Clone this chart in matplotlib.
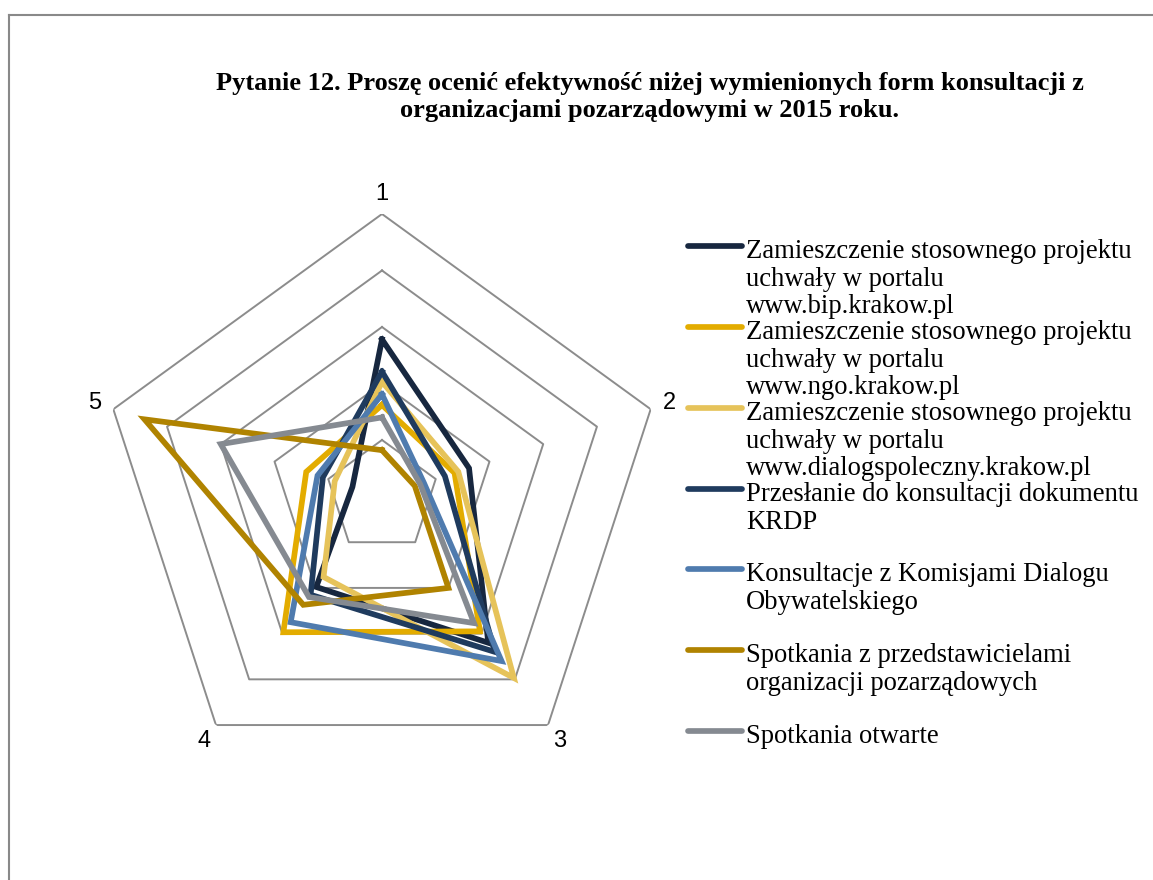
import numpy as np
import matplotlib
matplotlib.use("Agg")
import matplotlib.pyplot as plt
from matplotlib.lines import Line2D

# axes of the radar (rating categories)
categories = ["1", "2", "3", "4", "5"]

series_names = [
    "Zamieszczenie stosownego projektu\nuchwały w portalu\nwww.bip.krakow.pl",
    "Zamieszczenie stosownego projektu\nuchwały w portalu\nwww.ngo.krakow.pl",
    "Zamieszczenie stosownego projektu\nuchwały w portalu\nwww.dialogspoleczny.krakow.pl",
    "Przesłanie do konsultacji dokumentu\nKRDP",
    "Konsultacje z Komisjami Dialogu\nObywatelskiego",
    "Spotkania z przedstawicielami\norganizacji pozarządowych",
    "Spotkania otwarte",
]

bip = [2.78, 1.62, 3.20, 1.98, 0.55]
ngo = [1.62, 1.35, 2.95, 2.97, 1.41]
dialog = [2.03, 1.42, 3.97, 1.76, 0.88]
krdp = [2.21, 1.17, 3.40, 2.15, 1.10]
komisje = [1.81, 0.78, 3.60, 2.75, 1.20]
spotkania_org = [0.82, 0.61, 2.00, 2.37, 4.42]
spotkania_otw = [1.40, 0.71, 2.77, 2.20, 3.00]

colors = ["#17273f", "#e3ac00", "#e6c35a", "#1f3b5e", "#4f7bae", "#b08300", "#858a91"]

rings = [1, 2, 3, 4, 5]

title = "Pytanie 12. Proszę ocenić efektywność niżej wymienionych form konsultacji z\norganizacjami pozarządowymi w 2015 roku."

W, H = 1153, 880
fig = plt.figure(figsize=(W / 100, H / 100), dpi=100)

# outer frame (only top and left edge visible)
frame_c = "#898989"
fig.add_artist(Line2D([9 / W, 9 / W], [0, 1 - 15 / H], color=frame_c, lw=1.5))
fig.add_artist(Line2D([9 / W, 1], [1 - 15 / H, 1 - 15 / H], color=frame_c, lw=1.5))

cx, cy, R = 382, 496.5, 282.5
ax = fig.add_axes([(cx - R) / W, 1 - (cy + R) / H, 2 * R / W, 2 * R / H], projection="polar")
ax.set_theta_offset(np.pi / 2)
ax.set_theta_direction(-1)
ax.set_ylim(0, 5)
ax.grid(False)
ax.spines["polar"].set_visible(False)
ax.set_xticks([])
ax.set_yticks([])
ax.patch.set_alpha(0)

n = len(categories)
angles = np.linspace(0, 2 * np.pi, n, endpoint=False)
closed = np.append(angles, angles[0])

for r in rings:
    ax.plot(closed, [r] * (n + 1), color="#8c8c8c", lw=1.4, zorder=1)

data = [bip, ngo, dialog, krdp, komisje, spotkania_org, spotkania_otw]
for vals, c in zip(data, colors):
    ax.plot(closed, list(vals) + [vals[0]], color=c, lw=4.1, zorder=3,
            solid_joinstyle="miter")

for a, lab in zip(angles, categories):
    ax.text(a, 5.35, lab, ha="center", va="center", fontsize=17,
            family="Liberation Sans", color="#000000")

fig.text(650 / W, 1 - 97 / H, title, ha="center", va="center", fontsize=19,
         fontweight="bold", family="Liberation Serif", linespacing=1.25)

# legend drawn by hand to keep Excel's fixed spacing
ys = [246, 327, 408, 489, 569, 650, 731]
for name, c, y in zip(series_names, colors, ys):
    fig.add_artist(Line2D([688 / W, 742 / W], [1 - y / H, 1 - y / H], color=c, lw=4.1,
                          solid_capstyle="round"))
    fig.text(746 / W, 1 - (y - 7) / H, name, ha="left", va="top", fontsize=19.2,
             family="Liberation Serif", linespacing=1.14)

fig.savefig("out.png", dpi=100)
